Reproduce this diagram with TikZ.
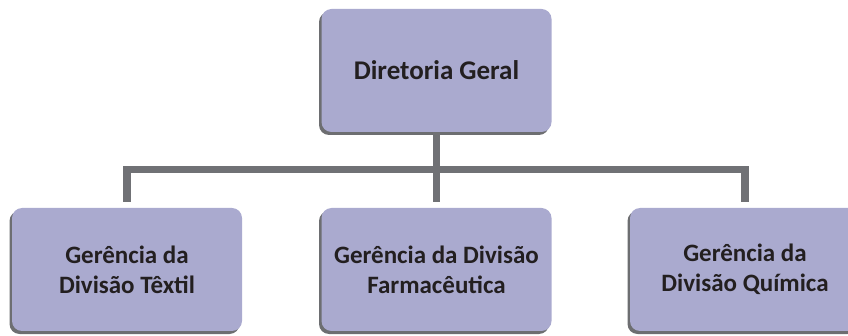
\documentclass[tikz,border=0pt]{standalone}
\usepackage{fontspec}
\setmainfont{Carlito}
\usepackage{tikz}
\usetikzlibrary{positioning, shadows}

\definecolor{boxfill}{RGB}{170,170,207}
\definecolor{shadowgray}{RGB}{109,110,113}
\definecolor{linegray}{RGB}{112,113,117}
\definecolor{textdark}{RGB}{35,31,32}

\begin{document}
\begin{tikzpicture}[x=1pt, y=-1pt,
	orgbox/.style={rectangle, rounded corners=10pt, fill=boxfill, text=textdark,
		align=center, font=\fontsize{25}{30}\selectfont\bfseries,
		minimum width=230pt, minimum height=123pt, inner sep=0pt,
		drop shadow={shadow xshift=-2.5pt, shadow yshift=-3pt, fill=shadowgray, opacity=1}},
	link/.style={draw=linegray, line width=7.5pt}]
	\useasboundingbox (0,0) rectangle (848,336);
	
	% Boxes
	\node[orgbox, font=\fontsize{27}{32}\selectfont\bfseries] (diretoria) at (436.5,70.5) {\raisebox{-3pt}{Diretoria Geral}};
	\node[orgbox] (textil) at (127,269.5) {Gerência da\\Divisão Têxtil};
	\node[orgbox] (farma) at (436.5,269.5) {Gerência da Divisão\\Farmacêutica};
	\node[orgbox] (quimica) at (745,269.5) {Gerência da\\Divisão Química};
	
	% Connectors
	\coordinate (bus) at (436.5,169.5);
	\draw[link, shorten >=6pt] (diretoria.south) -- (farma.north);
	\draw[link, shorten <=6pt, shorten >=6pt] (textil.north) |- (bus) -| (quimica.north);
	
\end{tikzpicture}
\end{document}
